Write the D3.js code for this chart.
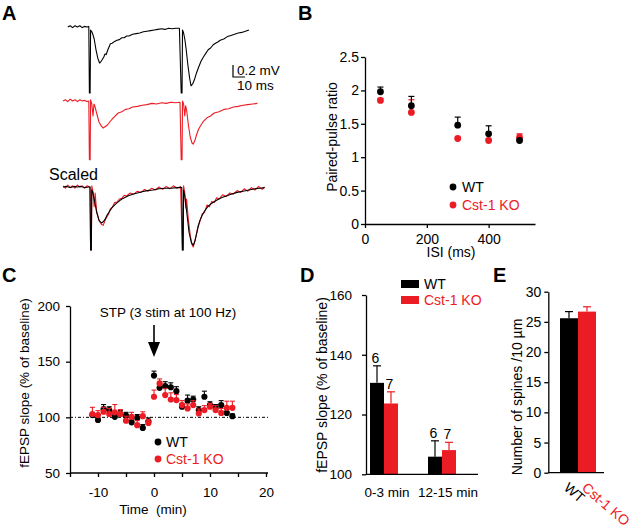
<!DOCTYPE html>
<html><head><meta charset="utf-8">
<script src="https://cdn.jsdelivr.net/npm/d3@7"></script>
<style>body{margin:0;background:#fff}svg{display:block;font-family:"Liberation Sans",Arial,sans-serif}</style>
</head><body><svg id="c" width="640" height="532"></svg>
<script>
// ---------- Panel A: traces [time ms, mV] ----------
const traceWT = [[4,0],[6,0.02],[8,-0.01],[10,0.02],[12,0],[14,0.02],[16,-0.01],[18,0.01],[20,0],[21.5,0.01],
[22,-1.1],[22.6,-1.1],[23,-0.05],[24,-0.08],[25,-0.13],[26,-0.2],[27.5,-0.38],[29,-0.52],[30.5,-0.6],[31.5,-0.58],[32.5,-0.55],[34,-0.5],[35,-0.45],[36,-0.46],[37,-0.4],[38,-0.35],[39.5,-0.28],[41,-0.27],[43,-0.24],[45,-0.22],[47,-0.21],[49,-0.18],[51,-0.18],[53,-0.15],[55,-0.15],[58,-0.12],[61,-0.11],[64,-0.1],[67,-0.08],[70,-0.07],[73,-0.06],[76,-0.05],[79,-0.04],[82,-0.03],[85,-0.04],[88,-0.02],[91,-0.03],[94,-0.02],[97,-0.02],
[98.5,-1.1],[99.2,-1.1],[99.6,-0.05],[100.5,-0.1],[101.5,-0.2],[102.5,-0.35],[104,-0.62],[105.5,-0.85],[106.7,-0.98],[108,-0.95],[109.5,-0.88],[111,-0.78],[113,-0.67],[115,-0.57],[117,-0.5],[119,-0.44],[121,-0.38],[123,-0.35],[125,-0.3],[127,-0.27],[129,-0.25],[131,-0.22],[134,-0.2],[137,-0.16],[140,-0.14],[143,-0.12],[146,-0.1],[149,-0.09],[152,-0.07],[155,-0.05]];
const traceKO = [[0,0],[2,0.02],[4,-0.01],[6,0.03],[8,0],[10,0.02],[12,-0.01],[14,0.02],[16,0],[18,0.01],[20,-0.01],[21.5,0],
[22,-0.98],[22.6,-0.98],[23,0.02],[24,-0.05],[25,-0.25],[25.8,-0.05],[26.5,-0.08],[28,-0.2],[30,-0.35],[32,-0.42],[33.5,-0.45],[35,-0.43],[37,-0.4],[39,-0.35],[41,-0.3],[43,-0.26],[46,-0.2],[49,-0.18],[52,-0.14],[55,-0.13],[58,-0.1],[62,-0.09],[66,-0.07],[70,-0.06],[74,-0.04],[78,-0.05],[82,-0.03],[86,-0.04],[90,-0.02],[94,-0.03],[97.5,-0.02],
[98.5,-0.98],[99.2,-0.98],[99.6,0],[100.5,-0.05],[101.5,-0.25],[102.2,-0.08],[103,-0.15],[104.5,-0.4],[106,-0.6],[107.5,-0.7],[108.5,-0.72],[110,-0.65],[111.5,-0.55],[113,-0.47],[115,-0.4],[117,-0.34],[120,-0.28],[123,-0.25],[126,-0.2],[130,-0.18],[134,-0.14],[138,-0.13],[142,-0.1],[146,-0.09],[150,-0.07],[154,-0.06],[158,-0.05],[162,-0.04]];
const scaledWT = [[0,0],[3,0.01],[6,-0.01],[9,0.01],[12,0],[15,0.01],[18,-0.01],[21,0],[22.5,0],
[23,-1.05],[23.6,-1.05],[24,-0.05],[25,-0.1],[26.5,-0.25],[28,-0.42],[30,-0.55],[32,-0.6],[33.5,-0.58],[35,-0.54],[37,-0.46],[39,-0.4],[41,-0.34],[44,-0.28],[47,-0.23],[50,-0.19],[54,-0.15],[58,-0.12],[62,-0.1],[66,-0.08],[70,-0.06],[75,-0.05],[80,-0.03],[85,-0.02],[90,-0.02],[95,-0.01],[99,-0.01],
[99.5,-1.05],[100.1,-1.05],[100.5,-0.05],[101.5,-0.15],[103,-0.4],[105,-0.75],[107,-0.93],[108.5,-0.97],[110,-0.9],[112,-0.72],[114,-0.56],[116,-0.47],[118,-0.4],[121,-0.32],[124,-0.27],[128,-0.22],[132,-0.18],[136,-0.15],[140,-0.12],[145,-0.09],[150,-0.07],[155,-0.05],[160,-0.03],[164,-0.02],[168,-0.01]];
const scaledKO = [[0,0.02],[2,-0.02],[4,0.03],[6,-0.01],[8,0.02],[10,-0.02],[12,0.03],[14,0],[16,0.02],[18,-0.02],[20,0.02],[22.5,0],
[23,-1.05],[23.6,-1.05],[24,0.02],[25,-0.08],[26,-0.33],[26.8,-0.1],[28,-0.4],[30,-0.56],[32,-0.62],[33.5,-0.64],[35,-0.56],[36.5,-0.5],[38,-0.45],[39.5,-0.36],[41,-0.34],[43,-0.26],[45,-0.25],[47,-0.2],[49,-0.19],[51,-0.14],[53,-0.15],[56,-0.1],[59,-0.12],[62,-0.07],[65,-0.09],[68,-0.04],[71,-0.07],[74,-0.02],[77,-0.05],[80,0],[83,-0.04],[86,0.01],[89,-0.03],[92,0.02],[95,-0.02],[98,0.01],
[99.5,-1.05],[100.1,-1.05],[100.5,0.02],[101.5,-0.1],[102.3,-0.35],[103,-0.2],[104.5,-0.55],[106,-0.8],[107.5,-0.96],[108.5,-1.0],[109.5,-0.93],[111,-0.8],[112.5,-0.65],[114,-0.58],[116,-0.45],[118,-0.42],[120,-0.3],[122,-0.33],[124,-0.24],[126,-0.26],[128,-0.18],[130,-0.2],[133,-0.13],[136,-0.16],[139,-0.1],[142,-0.12],[145,-0.06],[148,-0.09],[151,-0.03],[154,-0.07],[157,-0.01],[160,-0.05],[163,0.01],[166,-0.04],[168,0]];
const scaleBarMV = 0.2, scaleBarMS = 10;

// ---------- Panel B: paired-pulse ratio ----------
const isi = [50,150,300,400,500];
const ppWT = [1.98,1.77,1.48,1.35,1.25];
const ppWTerr = [0.07,0.14,0.12,0.12,0.02];
const ppKO = [1.85,1.67,1.28,1.25,1.30];
const ppKOerr = [0.03,0.19,0.02,0.02,0.05];
const bYTicks = [0,0.5,1,1.5,2,2.5];
const bXTicks = [0,200,400];

// ---------- Panel C: STP time course ----------
const timeMin = [-11,-10,-9,-8,-7,-6,-5,-4,-3,-2,-1,0,1,2,3,4,5,6,7,8,9,10,11,12,13,14];
const stpWT = [102,97.6,107.5,106.5,100.5,103,101.5,95.5,99.5,90.5,96.5,137.5,126.5,128,127,123.5,109.5,115,116,106.5,118.5,111,108.5,111,104,101];
const stpWTerr = [2,2,4,3,2,3,3,3,3,3,3,4,4,4,4,4,3,5,3,3,5,3,3,4,3,2];
const stpKO = [103,102,105,103,104.5,103,97,100.5,93,101,95,118.5,130.5,120,116,115.5,111,108,111,103.5,106.5,109.5,106.5,104,108.5,108.5];
const stpKOerr = [6,4,4,5,7,4,4,4,4,4,3,6,4,6,6,5,4,4,4,4,4,3,4,4,6,6];
const cYTicks = [50,100,150,200];
const cXTicks = [-15,-10,-5,0,5,10,15,20];
const cXLabels = [-10,0,10,20];

// ---------- Panel D: summary bars ----------
const dGroups = ["0-3 min","12-15 min"];
const dWT = [130.6,105.9];
const dWTerr = [5.7,5.3];
const dKO = [123.7,108.1];
const dKOerr = [3.9,2.6];
const dNWT = [6,6];
const dNKO = [7,7];
const dYTicks = [100,120,140,160];

// ---------- Panel E: spine density ----------
const eGroups = ["WT","Cst-1 KO"];
const eVals = [25.6,26.7];
const eErr = [1.1,0.8];
const eYTicks = [0,5,10,15,20,25,30];

const RED = "#ec1c24", BLACK = "#000";
const svg = d3.select("#c");

function styleAxis(g, fs){
  g.select(".domain").attr("stroke","#000").attr("stroke-width",1.3);
  g.selectAll(".tick line").attr("stroke","#000").attr("stroke-width",1.3);
  g.selectAll(".tick text").attr("font-size",fs).attr("fill","#000").attr("font-family",'"Liberation Sans",Arial,sans-serif');
}
function letter(t,x,y){ svg.append("text").attr("x",x).attr("y",y).attr("font-size",20).attr("font-weight","bold").text(t); }

// ===== Panel A =====
letter("A",2,20); letter("B",298,20); letter("C",2,282); letter("D",300,282); letter("E",493,282);
const ax = d3.scaleLinear().domain([0,170]).range([63,267]);
function yA(base){ return d3.scaleLinear().domain([0,-1]).range([base, base+60]); }
function drawTrace(data, base, color){
  const y = yA(base);
  svg.append("path").datum(data).attr("fill","none").attr("stroke",color).attr("stroke-width",1.1)
    .attr("stroke-linejoin","round")
    .attr("d", d3.line().x(d=>ax(d[0])).y(d=>y(d[1])));
}
drawTrace(traceWT, 27, BLACK);
drawTrace(traceKO, 101, RED);
drawTrace(scaledKO, 187, RED);
drawTrace(scaledWT, 187, BLACK);
// scale bar
{
  const y = yA(65); const x0 = 233;
  const lenX = ax(scaleBarMS)-ax(0);
  svg.append("path").attr("fill","none").attr("stroke","#000").attr("stroke-width",1.2)
    .attr("d",`M${x0},${y(0)}V${y(-scaleBarMV)}H${x0+lenX}`);
  svg.append("text").attr("x",237).attr("y",75).attr("font-size",13.5).text(scaleBarMV+" mV");
  svg.append("text").attr("x",237).attr("y",90).attr("font-size",13.5).text(scaleBarMS+" ms");
}
svg.append("text").attr("x",49).attr("y",180).attr("font-size",16).text("Scaled");

// ===== Panel B =====
{
  const x = d3.scaleLinear().domain([0,550]).range([365,535]);
  const y = d3.scaleLinear().domain([0,2.5]).range([224,57]);
  const gy = svg.append("g").attr("transform","translate(365,0)")
    .call(d3.axisLeft(y).tickValues(bYTicks).tickFormat(d=>d).tickSize(4).tickPadding(2).tickSizeOuter(0));
  styleAxis(gy,14);
  const gx = svg.append("g").attr("transform","translate(0,224)")
    .call(d3.axisBottom(x).tickValues(bXTicks).tickFormat(d=>d).tickSize(4).tickPadding(6).tickSizeOuter(0));
  styleAxis(gx,14);
  svg.append("text").attr("transform","translate(337,137) rotate(-90)").attr("text-anchor","middle").attr("font-size",14).text("Paired-pulse ratio");
  svg.append("text").attr("x",451).attr("y",257).attr("text-anchor","middle").attr("font-size",14).text("ISI (ms)");
  function series(vals, errs, color){
    const g = svg.append("g");
    isi.forEach((t,i)=>{
      const cx = x(t), cy = y(vals[i]), ce = y(vals[i]+errs[i]);
      g.append("line").attr("x1",cx).attr("x2",cx).attr("y1",cy).attr("y2",ce).attr("stroke",color).attr("stroke-width",1.2);
      g.append("line").attr("x1",cx-3).attr("x2",cx+3).attr("y1",ce).attr("y2",ce).attr("stroke",color).attr("stroke-width",1.2);
    });
    g.selectAll("circle").data(vals).join("circle").attr("cx",(d,i)=>x(isi[i])).attr("cy",d=>y(d)).attr("r",3.4).attr("fill",color);
  }
  series(ppKO, ppKOerr, RED);
  series(ppWT, ppWTerr, BLACK);
  svg.append("circle").attr("cx",453).attr("cy",187).attr("r",3.4).attr("fill",BLACK);
  svg.append("text").attr("x",462).attr("y",192).attr("font-size",14).text("WT");
  svg.append("circle").attr("cx",453).attr("cy",205).attr("r",3.4).attr("fill",RED);
  svg.append("text").attr("x",462).attr("y",210).attr("font-size",14).attr("fill",RED).text("Cst-1 KO");
}

// ===== Panel C =====
{
  const x = d3.scaleLinear().domain([-15,20]).range([70,266]);
  const y = d3.scaleLinear().domain([50,200]).range([473,306]);
  const gy = svg.append("g").attr("transform","translate(70,0)")
    .call(d3.axisLeft(y).tickValues(cYTicks).tickSize(4).tickPadding(6).tickSizeOuter(0));
  styleAxis(gy,13.5);
  const gx = svg.append("g").attr("transform","translate(0,473)")
    .call(d3.axisBottom(x).tickValues(cXTicks).tickFormat(d=>cXLabels.includes(d)?d:"").tickSize(4).tickPadding(10).tickSizeOuter(0));
  gx.select(".domain").attr("d","M70,0H268");
  styleAxis(gx,13.5);
  svg.append("line").attr("x1",70).attr("x2",270).attr("y1",y(100)).attr("y2",y(100))
    .attr("stroke","#000").attr("stroke-width",1).attr("stroke-dasharray","3,2,1,2");
  svg.append("text").attr("transform","translate(29,383) rotate(-90)").attr("text-anchor","middle").attr("font-size",13.5).text("fEPSP slope (% of baseline)");
  svg.append("text").attr("x",153).attr("y",514).attr("text-anchor","middle").attr("font-size",13.5).style("white-space","pre").text("Time  (min)");
  svg.append("text").attr("x",168).attr("y",317).attr("text-anchor","middle").attr("font-size",13.5).text("STP (3 stim at 100 Hz)");
  const ax0 = x(0);
  svg.append("line").attr("x1",ax0).attr("x2",ax0).attr("y1",325).attr("y2",343).attr("stroke","#000").attr("stroke-width",1.6);
  svg.append("path").attr("d",`M${ax0-6},342L${ax0+6},342L${ax0},357Z`).attr("fill","#000");
  function series(vals, errs, color){
    const g = svg.append("g");
    timeMin.forEach((t,i)=>{
      const cx = x(t), cy = y(vals[i]), ce = y(vals[i]+errs[i]);
      g.append("line").attr("x1",cx).attr("x2",cx).attr("y1",cy).attr("y2",ce).attr("stroke",color).attr("stroke-width",1.1);
      g.append("line").attr("x1",cx-2.5).attr("x2",cx+2.5).attr("y1",ce).attr("y2",ce).attr("stroke",color).attr("stroke-width",1.1);
    });
    g.selectAll("circle").data(vals).join("circle").attr("cx",(d,i)=>x(timeMin[i])).attr("cy",d=>y(d)).attr("r",3.1).attr("fill",color);
  }
  series(stpWT, stpWTerr, BLACK);
  series(stpKO, stpKOerr, RED);
  svg.append("circle").attr("cx",158).attr("cy",442).attr("r",3.4).attr("fill",BLACK);
  svg.append("text").attr("x",166).attr("y",447).attr("font-size",14).text("WT");
  svg.append("circle").attr("cx",158).attr("cy",459).attr("r",3.4).attr("fill",RED);
  svg.append("text").attr("x",166).attr("y",464).attr("font-size",14).attr("fill",RED).text("Cst-1 KO");
}

// ===== Panel D =====
{
  const gx = d3.scalePoint().domain(dGroups).range([384,442]);
  const y = d3.scaleLinear().domain([100,160]).range([474.3,295]);
  const bw = 14;
  const gy = svg.append("g").attr("transform","translate(366,0)")
    .call(d3.axisLeft(y).tickValues(dYTicks).tickSize(4).tickPadding(10).tickSizeOuter(0));
  styleAxis(gy,13.5);
  function bars(vals, errs, ns, color, off){
    dGroups.forEach((gname,i)=>{
      const x0 = gx(gname)+off;
      svg.append("rect").attr("x",x0).attr("y",y(vals[i])).attr("width",bw).attr("height",y(100)-y(vals[i])).attr("fill",color);
      const cx = x0+bw/2, ce = y(vals[i]+errs[i]);
      svg.append("line").attr("x1",cx).attr("x2",cx).attr("y1",y(vals[i])).attr("y2",ce).attr("stroke",color).attr("stroke-width",1.2);
      svg.append("line").attr("x1",cx-4).attr("x2",cx+4).attr("y1",ce).attr("y2",ce).attr("stroke",color).attr("stroke-width",1.2);
      svg.append("text").attr("x",cx-1.5).attr("y",ce-3).attr("text-anchor","middle").attr("font-size",14).text(ns[i]);
    });
  }
  bars(dWT, dWTerr, dNWT, BLACK, -bw);
  bars(dKO, dKOerr, dNKO, RED, 0);
  svg.append("line").attr("x1",366).attr("x2",478).attr("y1",474.3).attr("y2",474.3).attr("stroke","#000").attr("stroke-width",1.3);
  dGroups.forEach((gname,i)=>{
    svg.append("text").attr("x",gx(gname)+3+i*3).attr("y",496.5).attr("text-anchor","middle").attr("font-size",13.5).text(gname);
  });
  svg.append("text").attr("transform","translate(327,385) rotate(-90)").attr("text-anchor","middle").attr("font-size",14).text("fEPSP slope (% of baseline)");
  svg.append("rect").attr("x",401).attr("y",280).attr("width",18).attr("height",8).attr("fill",BLACK);
  svg.append("text").attr("x",424).attr("y",289).attr("font-size",14).text("WT");
  svg.append("rect").attr("x",401).attr("y",296).attr("width",18).attr("height",8).attr("fill",RED);
  svg.append("text").attr("x",424).attr("y",305).attr("font-size",14).attr("fill",RED).text("Cst-1 KO");
}

// ===== Panel E =====
{
  const x = d3.scaleBand().domain(eGroups).range([560,596]).padding(0);
  const y = d3.scaleLinear().domain([0,30]).range([472.7,291.7]);
  const gy = svg.append("g").attr("transform","translate(548.3,0)")
    .call(d3.axisLeft(y).tickValues(eYTicks).tickSize(4).tickPadding(3).tickSizeOuter(0));
  styleAxis(gy,14);
  const cols = [BLACK, RED];
  eGroups.forEach((gname,i)=>{
    const x0 = x(gname), w = x.bandwidth();
    svg.append("rect").attr("x",x0).attr("y",y(eVals[i])).attr("width",w).attr("height",y(0)-y(eVals[i])).attr("fill",cols[i]);
    const cx = x0+w/2, ce = y(eVals[i]+eErr[i]);
    svg.append("line").attr("x1",cx).attr("x2",cx).attr("y1",y(eVals[i])).attr("y2",ce).attr("stroke",cols[i]).attr("stroke-width",1.2);
    svg.append("line").attr("x1",cx-4).attr("x2",cx+4).attr("y1",ce).attr("y2",ce).attr("stroke",cols[i]).attr("stroke-width",1.2);
    svg.append("text").attr("transform",`translate(${cx-6},${489}) rotate(41)`).attr("font-size",14).attr("fill",cols[i]).text(gname);
  });
  svg.append("line").attr("x1",548.3).attr("x2",604).attr("y1",472.7).attr("y2",472.7).attr("stroke","#000").attr("stroke-width",1.3);
  svg.append("text").attr("transform","translate(522,397) rotate(-90)").attr("text-anchor","middle").attr("font-size",14).text("Number of spines /10 µm");
}
</script></body></html>
